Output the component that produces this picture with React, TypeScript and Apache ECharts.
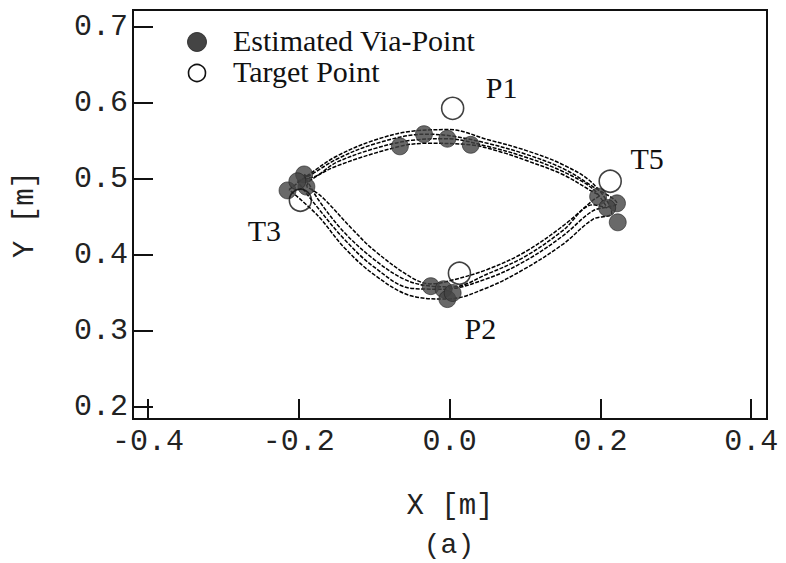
import { useEffect, useRef } from "react";
import * as echarts from "echarts";

// Tick positions on both axes
const xTickValues = [-0.4, -0.2, 0.0, 0.2, 0.4];
const yTickValues = [0.2, 0.3, 0.4, 0.5, 0.6, 0.7];

// Target points (open circles)
const targetNames = ["P1", "T5", "T3", "P2"];
const targetX = [0.004, 0.213, -0.198, 0.013];
const targetY = [0.593, 0.497, 0.472, 0.376];

// Estimated via-points (filled dots)
const viaX = [
  -0.215, -0.193, -0.19, -0.202,
  -0.034, -0.003, -0.066, 0.028,
  0.197, 0.222, 0.209, 0.223,
  -0.025, -0.008, -0.003, 0.004,
];
const viaY = [
  0.485, 0.506, 0.49, 0.497,
  0.559, 0.553, 0.543, 0.545,
  0.477, 0.468, 0.462, 0.443,
  0.359, 0.355, 0.342, 0.35,
];

// Generated hand trajectories: T3 -> P1 -> T5 -> P2 -> T3
const path1: [number, number][] = [
  [-0.213, 0.486], [-0.185, 0.507], [-0.15, 0.53], [-0.1, 0.551], [-0.05, 0.563],
  [0.0, 0.565], [0.05, 0.552], [0.1, 0.538], [0.15, 0.519], [0.19, 0.494],
  [0.215, 0.455],
  [0.19, 0.447], [0.15, 0.414], [0.1, 0.382], [0.05, 0.357], [-0.003, 0.342],
  [-0.05, 0.346], [-0.1, 0.374], [-0.14, 0.41], [-0.175, 0.452], [-0.213, 0.486],
];
const path2: [number, number][] = [
  [-0.202, 0.497], [-0.185, 0.505], [-0.15, 0.526], [-0.1, 0.546], [-0.034, 0.559],
  [0.0, 0.557], [0.05, 0.547], [0.1, 0.533], [0.15, 0.514], [0.19, 0.49],
  [0.222, 0.468],
  [0.19, 0.458], [0.15, 0.425], [0.1, 0.392], [0.05, 0.369], [-0.008, 0.355],
  [-0.05, 0.356], [-0.1, 0.384], [-0.14, 0.421], [-0.178, 0.466], [-0.202, 0.497],
];
const path3: [number, number][] = [
  [-0.193, 0.506], [-0.185, 0.502], [-0.15, 0.522], [-0.1, 0.54], [-0.05, 0.551],
  [-0.003, 0.553], [0.05, 0.543], [0.1, 0.529], [0.15, 0.51], [0.19, 0.487],
  [0.209, 0.462],
  [0.19, 0.466], [0.15, 0.432], [0.1, 0.398], [0.05, 0.375], [0.004, 0.358],
  [-0.025, 0.359], [-0.06, 0.368], [-0.1, 0.394], [-0.14, 0.43], [-0.175, 0.474],
  [-0.193, 0.506],
];
const path4: [number, number][] = [
  [-0.19, 0.49], [-0.185, 0.498], [-0.15, 0.517], [-0.066, 0.543], [-0.03, 0.547],
  [0.028, 0.545], [0.07, 0.535], [0.1, 0.525], [0.15, 0.506], [0.19, 0.483],
  [0.198, 0.478],
  [0.19, 0.472], [0.15, 0.438], [0.1, 0.404], [0.05, 0.381], [0.0, 0.366],
  [-0.025, 0.362], [-0.05, 0.37], [-0.1, 0.406], [-0.13, 0.435], [-0.17, 0.477],
  [-0.19, 0.49],
];
const paths = [path1, path2, path3, path4];

// Label placement for the target annotations (pixel offsets from each circle)
const targetLabelOffset: Record<string, [number, number]> = {
  P1: [49, -21],
  T5: [37, -23],
  T3: [-36, 30],
  P2: [21, 55],
};

const MONO = "'Liberation Mono', 'DejaVu Sans Mono', monospace";
const SERIF = "'Liberation Serif', 'DejaVu Serif', serif";
const INK = "#111";
const DOT = "#444";

export default function App() {
  const ref = useRef<HTMLDivElement>(null);

  useEffect(() => {
    if (!ref.current) return;
    const chart = echarts.init(ref.current, null, { renderer: "svg" });

    const lineSeries = paths.map((p, i) => ({
      type: "line",
      name: `trajectory-${i + 1}`,
      data: p,
      smooth: 0.35,
      showSymbol: false,
      symbol: "none",
      silent: true,
      z: 2,
      lineStyle: { color: "#000", width: 1.5, type: [4, 1.5] },
    }));

    chart.setOption({
      animation: false,
      backgroundColor: "#fff",
      grid: {
        left: 133,
        top: 10,
        right: 19,
        bottom: 144,
        show: true,
        borderColor: INK,
        borderWidth: 2,
      },
      xAxis: {
        type: "value",
        min: -0.42,
        max: 0.421,
        name: "X [m]",
        nameLocation: "middle",
        nameGap: 73,
        nameTextStyle: { fontFamily: MONO, fontSize: 29, color: "#222" },
        axisLine: { show: false, onZero: false },
        splitLine: { show: false },
        axisTick: {
          show: true,
          inside: true,
          length: 20,
          customValues: xTickValues,
          lineStyle: { color: INK, width: 2 },
        },
        axisLabel: {
          customValues: xTickValues,
          margin: 8,
          fontFamily: MONO,
          fontSize: 30,
          color: "#222",
          formatter: (v: number) => v.toFixed(1),
        },
      },
      yAxis: {
        type: "value",
        min: 0.1842,
        max: 0.7224,
        name: "Y [m]",
        nameLocation: "middle",
        nameGap: 93,
        nameTextStyle: { fontFamily: MONO, fontSize: 29, color: "#222" },
        axisLine: { show: false, onZero: false },
        splitLine: { show: false },
        axisTick: {
          show: true,
          inside: true,
          length: 20,
          customValues: yTickValues,
          lineStyle: { color: INK, width: 2 },
        },
        axisLabel: {
          customValues: yTickValues,
          margin: 5,
          fontFamily: MONO,
          fontSize: 30,
          color: "#222",
          formatter: (v: number) => v.toFixed(1),
        },
      },
      series: [
        ...lineSeries,
        {
          type: "scatter",
          name: "Estimated Via-Point",
          data: viaX.map((x, i) => [x, viaY[i]]),
          symbol: "circle",
          symbolSize: 17,
          z: 3,
          itemStyle: { color: DOT, borderColor: "#222", borderWidth: 0.8 },
        },
        {
          type: "scatter",
          name: "Target Point",
          data: targetNames.map((n, i) => ({
            name: n,
            value: [targetX[i], targetY[i]],
            label: { offset: targetLabelOffset[n] },
          })),
          symbol: "circle",
          symbolSize: 22,
          z: 4,
          itemStyle: { color: "rgba(255,255,255,0)", borderColor: INK, borderWidth: 1.6 },
          label: {
            show: true,
            position: "inside",
            formatter: "{b}",
            fontFamily: SERIF,
            fontSize: 30,
            color: INK,
            opacity: 1,
            textBorderWidth: 0,
          },
        },
      ],
      graphic: [
        {
          type: "circle",
          shape: { cx: 197, cy: 42, r: 9.5 },
          style: { fill: DOT, stroke: "#222", lineWidth: 0.8 },
        },
        {
          type: "text",
          x: 233,
          y: 40,
          style: {
            text: "Estimated Via-Point",
            font: `30px ${SERIF}`,
            fill: INK,
            verticalAlign: "middle",
          },
        },
        {
          type: "circle",
          shape: { cx: 197, cy: 73, r: 8.5 },
          style: { fill: "none", stroke: INK, lineWidth: 1.6 },
        },
        {
          type: "text",
          x: 233,
          y: 71,
          style: {
            text: "Target Point",
            font: `30px ${SERIF}`,
            fill: INK,
            verticalAlign: "middle",
          },
        },
        {
          type: "text",
          x: 449,
          y: 545,
          style: {
            text: "(a)",
            font: `28px ${MONO}`,
            fill: "#222",
            align: "center",
            verticalAlign: "middle",
          },
        },
      ],
    });

    return () => chart.dispose();
  }, []);

  return (
    <div
      ref={ref}
      style={{ position: "absolute", left: 0, top: 0, width: 786, height: 563 }}
    />
  );
}
